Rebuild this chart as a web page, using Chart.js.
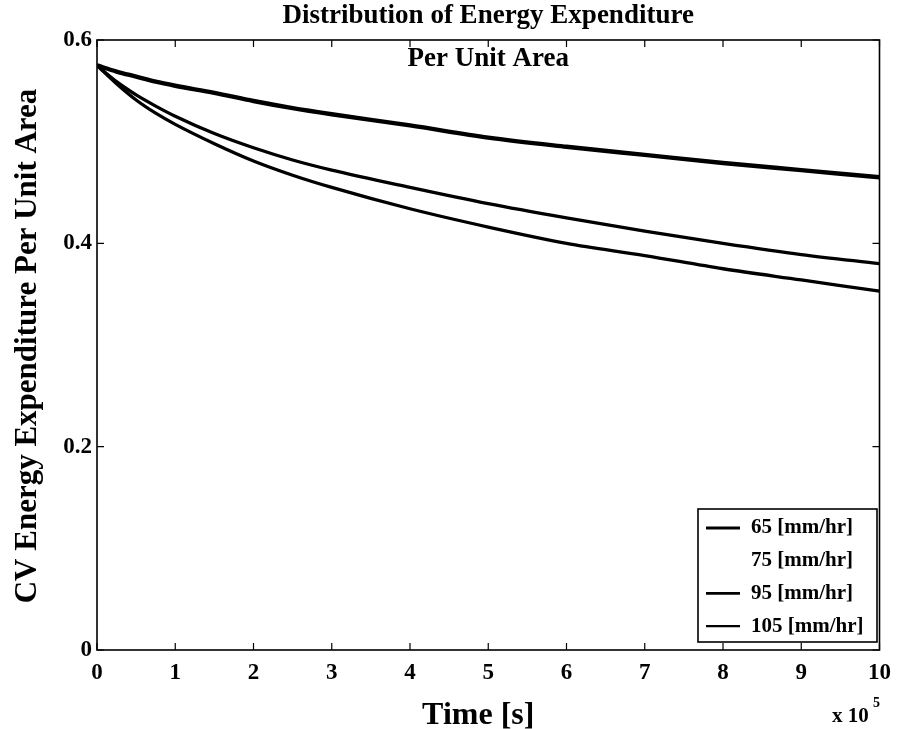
<!DOCTYPE html>
<html>
<head>
<meta charset="utf-8">
<script src="https://cdn.jsdelivr.net/npm/chart.js@4"></script>
<style>
  html, body { margin: 0; padding: 0; background: #fff; }
  #wrap { width: 900px; height: 729px; }
</style>
</head>
<body>
<div id="wrap"><canvas id="c" width="900" height="729"></canvas></div>
<script>
// Time in units of 1e5 s
const times = [0, 0.25, 0.5, 0.75, 1, 1.5, 2, 2.5, 3, 4, 5, 6, 7, 8, 9, 10];

// CV energy expenditure per unit area for each rainfall intensity
const rain65  = [0.575, 0.569, 0.564, 0.559, 0.555, 0.548, 0.540, 0.533, 0.527, 0.516, 0.504, 0.495, 0.487, 0.479, 0.472, 0.465];
const rain75  = [];
const rain95  = [0.575, 0.559, 0.546, 0.535, 0.525, 0.508, 0.494, 0.482, 0.472, 0.455, 0.439, 0.425, 0.412, 0.400, 0.389, 0.380];
const rain105 = [0.575, 0.557, 0.541, 0.528, 0.517, 0.498, 0.481, 0.467, 0.455, 0.434, 0.416, 0.400, 0.388, 0.375, 0.364, 0.353];

const seriesLabels = ['65 [mm/hr]', '75 [mm/hr]', '95 [mm/hr]', '105 [mm/hr]'];
const xTicks = [0, 1, 2, 3, 4, 5, 6, 7, 8, 9, 10];
const yTicks = [0, 0.2, 0.4, 0.6];

const FONT = '"Liberation Serif", "Times New Roman", serif';

const toPoints = vals => vals.map((v, i) => ({ x: times[i], y: v }));

const styles = [
  { color: '#000', width: 4.4, legendWidth: 3.2 },
  { color: '#fff', width: 3,   legendWidth: 3 },
  { color: '#000', width: 3.3, legendWidth: 2.6 },
  { color: '#000', width: 3.3, legendWidth: 2.2 }
];
const allSeries = [rain65, rain75, rain95, rain105];

const datasets = allSeries.map((vals, i) => ({
  label: seriesLabels[i],
  data: toPoints(vals),
  borderColor: styles[i].color,
  borderWidth: styles[i].width,
  legendWidth: styles[i].legendWidth,
  pointRadius: 0,
  fill: false,
  cubicInterpolationMode: 'monotone'
}));

// Frame, inward ticks, titles and legend box
const decorations = {
  id: 'decorations',
  afterDraw(chart) {
    const { ctx, chartArea: { left, right, top, bottom }, scales: { x, y } } = chart;
    ctx.save();
    ctx.strokeStyle = '#000';
    ctx.lineWidth = 1.6;
    ctx.strokeRect(left, top, right - left, bottom - top);

    ctx.lineWidth = 1.2;
    const tl = 7;
    x.ticks.forEach(t => {
      const px = x.getPixelForValue(t.value);
      ctx.beginPath();
      ctx.moveTo(px, bottom); ctx.lineTo(px, bottom - tl);
      ctx.moveTo(px, top); ctx.lineTo(px, top + tl);
      ctx.stroke();
    });
    y.ticks.forEach(t => {
      const py = y.getPixelForValue(t.value);
      ctx.beginPath();
      ctx.moveTo(left, py); ctx.lineTo(left + tl, py);
      ctx.moveTo(right, py); ctx.lineTo(right - tl, py);
      ctx.stroke();
    });

    const cx = (left + right) / 2;
    ctx.fillStyle = '#000';
    ctx.textAlign = 'center';
    ctx.textBaseline = 'alphabetic';
    ctx.font = 'bold 27px ' + FONT;
    ctx.fillText('Distribution of Energy Expenditure', cx, 23);
    ctx.fillText('Per Unit Area', cx, 66);

    ctx.font = 'bold 32px ' + FONT;
    ctx.fillText('Time [s]', cx - 10, 724);

    ctx.font = 'bold 21px ' + FONT;
    ctx.textAlign = 'left';
    ctx.fillText('x 10', 832, 722);
    ctx.font = 'bold 14px ' + FONT;
    ctx.fillText('5', 873, 707);

    ctx.save();
    ctx.translate(36, 346);
    ctx.rotate(-Math.PI / 2);
    ctx.textAlign = 'center';
    ctx.textBaseline = 'alphabetic';
    ctx.font = 'bold 31px ' + FONT;
    ctx.fillText('CV Energy Expenditure Per Unit Area', 0, 0);
    ctx.restore();

    // legend box
    const bx = 698, by = 509, bw = 179, bh = 133, rowH = 32.7;
    ctx.fillStyle = '#fff';
    ctx.fillRect(bx, by, bw, bh);
    ctx.lineWidth = 1.6;
    ctx.strokeStyle = '#000';
    ctx.strokeRect(bx, by, bw, bh);
    ctx.font = 'bold 21px ' + FONT;
    ctx.textAlign = 'left';
    ctx.textBaseline = 'middle';
    chart.data.datasets.forEach((ds, i) => {
      const ry = by + 19 + i * rowH;
      ctx.strokeStyle = ds.borderColor;
      ctx.lineWidth = ds.legendWidth;
      ctx.beginPath();
      ctx.moveTo(bx + 8, ry); ctx.lineTo(bx + 42, ry);
      ctx.stroke();
      ctx.fillStyle = '#000';
      ctx.fillText(ds.label, bx + 53, ry);
    });
    ctx.restore();
  }
};

new Chart(document.getElementById('c'), {
  type: 'line',
  data: { datasets },
  options: {
    responsive: false,
    animation: false,
    layout: { padding: { top: 40, right: 12, left: 0, bottom: 0 } },
    plugins: { legend: { display: false }, title: { display: false }, tooltip: { enabled: false } },
    scales: {
      x: {
        type: 'linear',
        min: 0, max: 10,
        afterFit: s => { s.height = 79; },
        afterBuildTicks: s => { s.ticks = xTicks.map(v => ({ value: v })); },
        grid: { display: false, drawTicks: false, tickLength: 0 },
        border: { display: false },
        ticks: { color: '#000', padding: 9, maxRotation: 0, font: { family: FONT, size: 23, weight: 'bold' } }
      },
      y: {
        min: 0, max: 0.6,
        afterFit: s => { s.width = 97; },
        afterBuildTicks: s => { s.ticks = yTicks.map(v => ({ value: v })); },
        grid: { display: false, drawTicks: false, tickLength: 0 },
        border: { display: false },
        ticks: {
          color: '#000', padding: 5,
          font: { family: FONT, size: 23, weight: 'bold' },
          callback: v => (v === 0 ? '0' : v.toFixed(1))
        }
      }
    }
  },
  plugins: [decorations]
});
</script>
</body>
</html>
